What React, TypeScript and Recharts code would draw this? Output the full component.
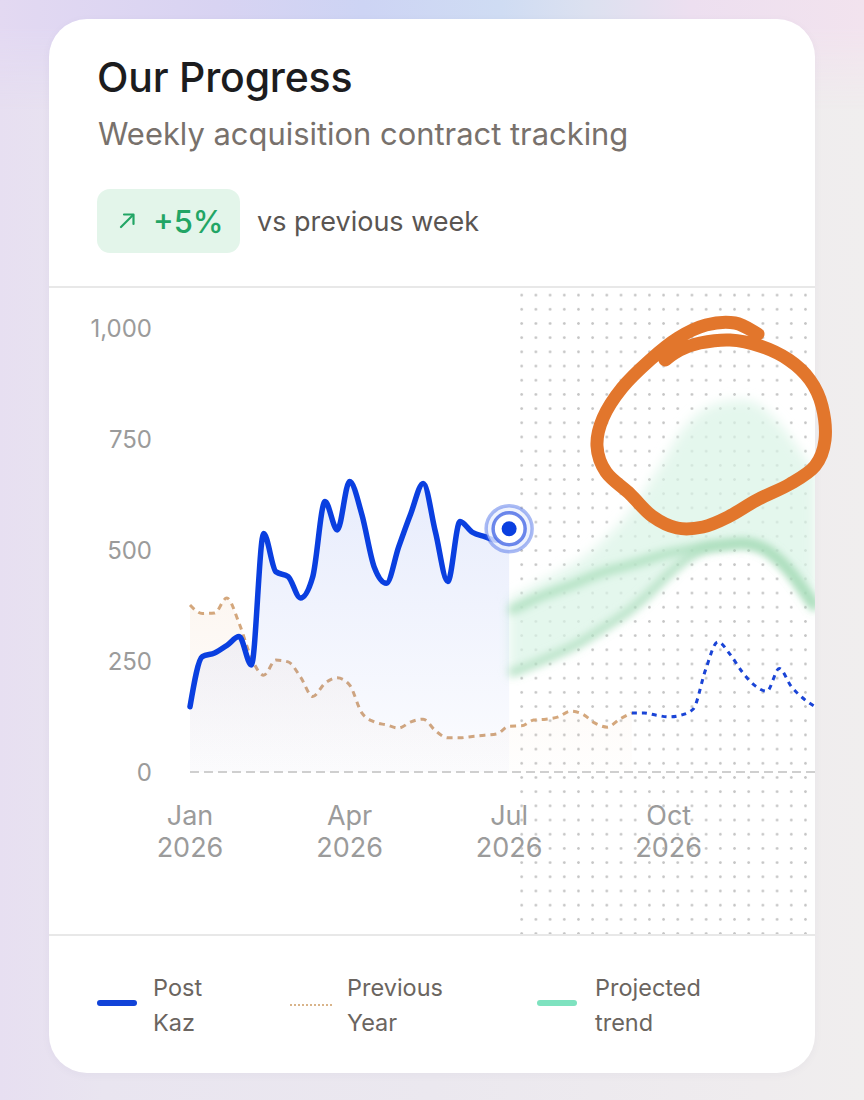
import React from "react";
import { ComposedChart, Area, Line, XAxis, YAxis, ReferenceLine } from "recharts";

// Weekly values, week 0 = first week of January 2026
const postKaz = [147, 260, 268, 285, 305, 241, 537, 451, 440, 392, 440, 609, 545, 654, 580, 462, 425, 507, 583, 650, 540, 429, 564, 540, 530, 522, 548];
const previousYear = [376, 357, 358, 392, 335, 257, 218, 252, 248, 214, 170, 200, 212, 196, 133, 113, 106, 99, 113, 119, 93, 77, 77, 80, 83, 86, 103, 104, 117, 119, 124, 137, 130, 110, 101, 119, 133];
// second half of last year, drawn as a thin blue dotted line from week 36
const OUTLOOK_START = 36;
const previousYearLate = [133, 133, 128, 124, 128, 142, 230, 293, 265, 225, 195, 182, 233, 192, 165, 146];
// projection band from week 26 onward
const PROJ_START = 26;
const projMid = [362, 375, 388, 400, 410, 420, 432, 443, 453, 460, 468, 476, 485, 493, 498, 503, 508, 511, 514, 516, 512, 500, 478, 448, 410, 370];
const projLow = [222, 232, 243, 255, 267, 280, 295, 312, 330, 348, 368, 392, 418, 446, 470, 490, 503, 508, 511, 514, 510, 498, 476, 446, 408, 368];
const projHigh = [392, 405, 420, 435, 450, 465, 482, 505, 530, 558, 592, 632, 675, 722, 765, 798, 818, 830, 836, 838, 832, 812, 785, 750, 710, 672];

const TOTAL_WEEKS = 52;
const tickWeeks = [0, 13, 26, 39];
const tickMonths = ["Jan", "Apr", "Jul", "Oct"];
const tickYear = "2026";
const yTicks = [0, 250, 500, 750, 1000];

const legendItems = [
  { lines: ["Post", "Kaz"], kind: "solid", color: "#1143d8", swatchX: 97, textX: 153 },
  { lines: ["Previous", "Year"], kind: "dotted", color: "#d9b48a", swatchX: 290, textX: 347 },
  { lines: ["Projected", "trend"], kind: "solid", color: "#7ee2bf", swatchX: 537, textX: 595 },
];

// marker-pen loop around the top of the projection
const scribble: number[][] = [
  [758, 334], [735, 323], [706, 325], [678, 338], [650, 360], [622, 388], [603, 418], [597, 446],
  [606, 472], [630, 494], [652, 516], [677, 528], [703, 527], [728, 517], [757, 500], [790, 484],
  [815, 466], [825, 440], [822, 406], [810, 380], [789, 360], [760, 346], [730, 340], [700, 343],
  [680, 350], [665, 360],
];

const data = Array.from({ length: TOTAL_WEEKS }, (_, w) => ({
  week: w,
  postKaz: w < postKaz.length ? postKaz[w] : null,
  previousYear: w < previousYear.length ? previousYear[w] : null,
  previousYearLate: w >= OUTLOOK_START ? previousYearLate[w - OUTLOOK_START] : null,
  projMid: w >= PROJ_START ? projMid[w - PROJ_START] : null,
  projLow: w >= PROJ_START ? projLow[w - PROJ_START] : null,
  band: w >= PROJ_START ? [projLow[w - PROJ_START], projHigh[w - PROJ_START]] : null,
}));

const LAST_WEEK = postKaz.length - 1;

const smoothPath = (pts: number[][]) => {
  let d = `M${pts[0][0]},${pts[0][1]}`;
  for (let i = 0; i < pts.length - 1; i++) {
    const p0 = pts[i - 1] || pts[i];
    const p1 = pts[i];
    const p2 = pts[i + 1];
    const p3 = pts[i + 2] || p2;
    const c1 = [p1[0] + (p2[0] - p0[0]) / 6, p1[1] + (p2[1] - p0[1]) / 6];
    const c2 = [p2[0] - (p3[0] - p1[0]) / 6, p2[1] - (p3[1] - p1[1]) / 6];
    d += ` C${c1[0]},${c1[1]} ${c2[0]},${c2[1]} ${p2[0]},${p2[1]}`;
  }
  return d;
};

const MonthTick = ({ x, y, payload }: any) => {
  const i = tickWeeks.indexOf(payload.value);
  return (
    <text x={x} y={y} textAnchor="middle" fill="#9b9b9b" fontSize={27}>
      <tspan x={x} dy={45}>{tickMonths[i]}</tspan>
      <tspan x={x} dy={32}>{tickYear}</tspan>
    </text>
  );
};

// pulsing "current week" marker on the last real point
const NowMarker = (props: any) => {
  const { cx, cy, payload, index } = props;
  if (!payload || payload.week !== LAST_WEEK || cx == null || cy == null) {
    return <g key={`m-${index}`} />;
  }
  return (
    <g key={`m-${index}`}>
      <circle cx={cx} cy={cy} r={23} fill="rgba(235,240,253,0.8)" stroke="rgba(50,90,228,0.42)" strokeWidth={3.5} />
      <circle cx={cx} cy={cy} r={16} fill="#ffffff" stroke="rgba(40,80,225,0.68)" strokeWidth={3.5} />
      <circle cx={cx} cy={cy} r={7.5} fill="#0a3fe0" />
    </g>
  );
};

export default function App() {
  return (
    <div
      style={{
        position: "absolute",
        left: 0,
        top: 0,
        width: 864,
        height: 1100,
        overflow: "hidden",
        fontFamily: "Inter, 'Noto Sans', sans-serif",
        background: "linear-gradient(90deg, #e7dff1 0%, #e9e5f0 12%, #ebe8ef 50%, #efecee 88%, #f0eeee 100%)",
      }}
    >
      <div
        style={{
          position: "absolute",
          left: 0,
          top: 0,
          width: 864,
          height: 110,
          background:
            "linear-gradient(90deg, #e3d9f2 0%, #d8d3f2 25%, #cdd4f4 42%, #cfdcf3 58%, #dce1f0 68%, #eddff0 80%, #f2e3ee 100%)",
          WebkitMaskImage: "linear-gradient(to bottom, black 0%, black 25%, transparent 100%)",
          maskImage: "linear-gradient(to bottom, black 0%, black 25%, transparent 100%)",
        }}
      />

      {/* card */}
      <div
        style={{
          position: "absolute",
          left: 49,
          top: 19,
          width: 766,
          height: 1054,
          background: "#ffffff",
          borderRadius: 38,
          overflow: "hidden",
          boxShadow: "0 2px 10px rgba(60,50,90,0.04)",
        }}
      >
        <div style={{ position: "absolute", left: 48, top: 38, fontSize: 41, lineHeight: "41px", fontWeight: 500, color: "#1c1c1e", letterSpacing: -0.2 }}>
          Our Progress
        </div>
        <div style={{ position: "absolute", left: 49, top: 100, fontSize: 30.9, lineHeight: "30.9px", color: "#78716c" }}>
          Weekly acquisition contract tracking
        </div>
        <div
          style={{
            position: "absolute",
            left: 48,
            top: 170,
            width: 143,
            height: 64,
            borderRadius: 13,
            background: "#e3f5ea",
          }}
        >
          <svg width={18} height={18} style={{ position: "absolute", left: 22, top: 22 }}>
            <line x1={2} y1={16} x2={14} y2={4} stroke="#22a565" strokeWidth={2.2} strokeLinecap="round" />
            <polyline points="5,3.5 14.5,3.5 14.5,13" fill="none" stroke="#22a565" strokeWidth={2.2} strokeLinecap="round" strokeLinejoin="round" />
          </svg>
          <div style={{ position: "absolute", left: 56, top: 17, fontSize: 31, lineHeight: "31px", fontWeight: 500, color: "#22a565" }}>
            +5%
          </div>
        </div>
        <div style={{ position: "absolute", left: 208, top: 189, fontSize: 27, lineHeight: "27px", color: "#5a5552" }}>
          vs previous week
        </div>

        <div style={{ position: "absolute", left: 0, top: 267, width: 766, height: 1.5, background: "#e8e8e8" }} />

        {/* dotted backdrop behind the forecast half */}
        <div
          style={{
            position: "absolute",
            left: 471,
            top: 269,
            width: 295,
            height: 646,
            backgroundImage: "radial-gradient(circle, #c6c6c6 1px, transparent 1.6px)",
            backgroundSize: "14.2px 14.2px",
            backgroundPosition: "-5.4px 0px",
          }}
        />

        <div style={{ position: "absolute", left: 0, top: 270 }}>
          <ComposedChart width={770} height={590} data={data} margin={{ top: 39, right: 3, left: 0, bottom: 0 }}>
            <defs>
              <linearGradient id="kazFill" x1="0" y1="0" x2="0" y2="1">
                <stop offset="0%" stopColor="#3b62e6" stopOpacity={0.2} />
                <stop offset="100%" stopColor="#3b62e6" stopOpacity={0.03} />
              </linearGradient>
              <linearGradient id="prevFill" x1="0" y1="0" x2="0" y2="1">
                <stop offset="0%" stopColor="#e6a872" stopOpacity={0.16} />
                <stop offset="100%" stopColor="#e6a872" stopOpacity={0.02} />
              </linearGradient>
              <filter id="haze" x="-20%" y="-30%" width="140%" height="160%">
                <feGaussianBlur stdDeviation="4" />
              </filter>
              <filter id="hazeWide" x="-20%" y="-20%" width="140%" height="140%">
                <feGaussianBlur stdDeviation="6" />
              </filter>
            </defs>
            <XAxis
              dataKey="week"
              type="number"
              domain={[0, TOTAL_WEEKS - 1]}
              ticks={tickWeeks}
              interval={0}
              axisLine={false}
              tickLine={false}
              height={107}
              tick={<MonthTick />}
            />
            <YAxis
              domain={[0, 1000]}
              ticks={yTicks}
              width={141}
              axisLine={false}
              tickLine={false}
              tickMargin={32}
              tick={{ fill: "#9b9b9b", fontSize: 24 }}
              tickFormatter={(v: number) => v.toLocaleString("en-US")}
            />
            <ReferenceLine y={0} stroke="#cfcfcf" strokeWidth={2} strokeDasharray="9 5" />

            <Area
              dataKey="band"
              type="monotone"
              stroke="none"
              fill="#d8f4e6"
              fillOpacity={0.7}
              filter="url(#hazeWide)"
              isAnimationActive={false}
              dot={false}
              activeDot={false}
            />
            <Line
              dataKey="projLow"
              type="monotone"
              stroke="#a2dab5"
              strokeWidth={8}
              strokeOpacity={0.8}
              filter="url(#haze)"
              dot={false}
              activeDot={false}
              isAnimationActive={false}
            />
            <Line
              dataKey="projMid"
              type="monotone"
              stroke="#a2dab5"
              strokeWidth={8}
              strokeOpacity={0.85}
              filter="url(#haze)"
              dot={false}
              activeDot={false}
              isAnimationActive={false}
            />

            <Area
              dataKey="previousYear"
              type="monotone"
              stroke="#d4a77c"
              strokeWidth={3}
              strokeDasharray="6 5"
              fill="url(#prevFill)"
              dot={false}
              activeDot={false}
              isAnimationActive={false}
            />
            <Line
              dataKey="previousYearLate"
              type="monotone"
              stroke="#1a44d6"
              strokeWidth={3}
              strokeDasharray="5 5"
              dot={false}
              activeDot={false}
              isAnimationActive={false}
            />
            <Area
              dataKey="postKaz"
              type="monotone"
              stroke="#0a3fe0"
              strokeWidth={5.5}
              strokeLinecap="round"
              fill="url(#kazFill)"
              dot={NowMarker}
              activeDot={false}
              isAnimationActive={false}
            />
          </ComposedChart>
        </div>

        <div style={{ position: "absolute", left: 0, top: 915, width: 766, height: 1.5, background: "#e8e8e8" }} />

        {legendItems.map((item) => (
          <React.Fragment key={item.lines[0]}>
            {item.kind === "solid" ? (
              <div
                style={{
                  position: "absolute",
                  left: item.swatchX - 49,
                  top: 981,
                  width: 40,
                  height: 6,
                  borderRadius: 3,
                  background: item.color,
                }}
              />
            ) : (
              <div
                style={{
                  position: "absolute",
                  left: item.swatchX - 49,
                  top: 985,
                  width: 42,
                  height: 0,
                  borderTop: `2px dotted ${item.color}`,
                }}
              />
            )}
            <div
              style={{
                position: "absolute",
                left: item.textX - 49,
                top: 951,
                fontSize: 23.5,
                lineHeight: "35px",
                color: "#6b6560",
              }}
            >
              {item.lines.map((l) => (
                <div key={l}>{l}</div>
              ))}
            </div>
          </React.Fragment>
        ))}
      </div>

      <svg width={864} height={1100} style={{ position: "absolute", left: 0, top: 0, pointerEvents: "none" }}>
        <path d={smoothPath(scribble)} fill="none" stroke="#e2762c" strokeWidth={13} strokeLinecap="round" strokeLinejoin="round" />
      </svg>
    </div>
  );
}
